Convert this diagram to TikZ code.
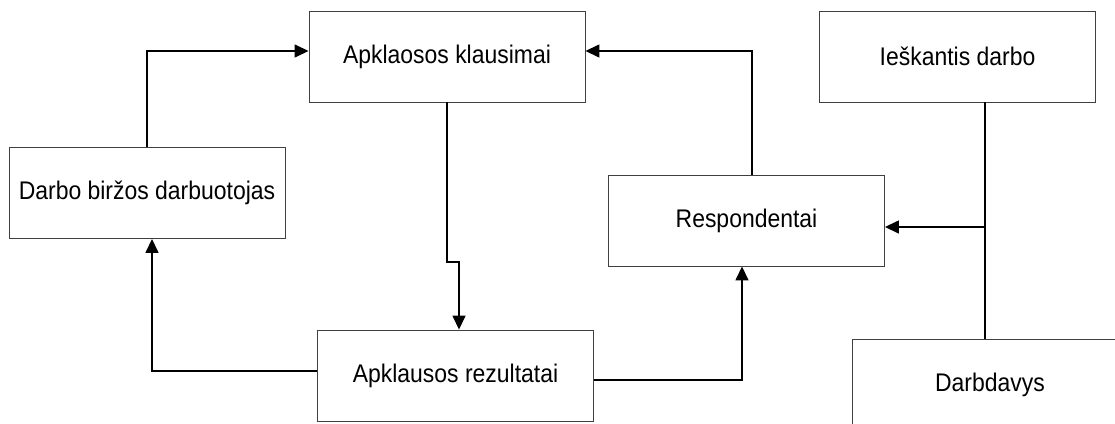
\documentclass[tikz,border=0pt]{standalone}
\usepackage{fontspec}
\setmainfont{Liberation Sans}[FakeStretch=0.9]
\usetikzlibrary{arrows.meta}
\begin{document}
\begin{tikzpicture}[x=1pt,y=-1pt,
  box/.style={draw=black!75,line width=0.9pt,minimum width=276pt,minimum height=91pt,
    inner sep=0pt,font=\fontsize{25.5}{30}\selectfont},
  link/.style={line width=1.5pt,line join=miter},
  flow/.style={link,-{Triangle[length=14pt,width=13pt]}}]
\useasboundingbox (0,0) rectangle (1115,423);
\begin{scope}
\clip (0,0) rectangle (1115,423);
\node[box] (klaus) at (447,56.5) {Apklaosos klausimai};
\node[box] (iesk) at (957.5,56.5) {Ieškantis darbo};
\node[box] (birza) at (147,193) {Darbo biržos darbuotojas};
\node[box] (resp) at (746.5,220.5) {Respondentai};
\node[box] (rez) at (455.5,375.5) {Apklausos rezultatai};
\node[box] (darbd) at (990,385) {Darbdavys};
\end{scope}
% feedback loop between the survey boxes
\draw[flow] (birza.north) |- ([yshift=5.5pt]klaus.west);
\draw[flow] (klaus.south) -- ++(0,159.5) -| ([xshift=3.5pt]rez.north);
\draw[flow] ([yshift=4.5pt]rez.west) -| ([xshift=5pt]birza.south);
\draw[flow] ([yshift=-4.5pt]rez.east) -| ([xshift=-4.5pt]resp.south);
\draw[flow] ([xshift=5.5pt]resp.north) |- ([yshift=5.5pt]klaus.east);
% job seeker and employer join into the respondents
\draw[link] ([xshift=27.5pt]iesk.south) -- ([xshift=-5pt]darbd.north);
\coordinate (join) at (985,227);
\draw[flow] (join) -- ([yshift=-6.5pt]resp.east);
\end{tikzpicture}
\end{document}
